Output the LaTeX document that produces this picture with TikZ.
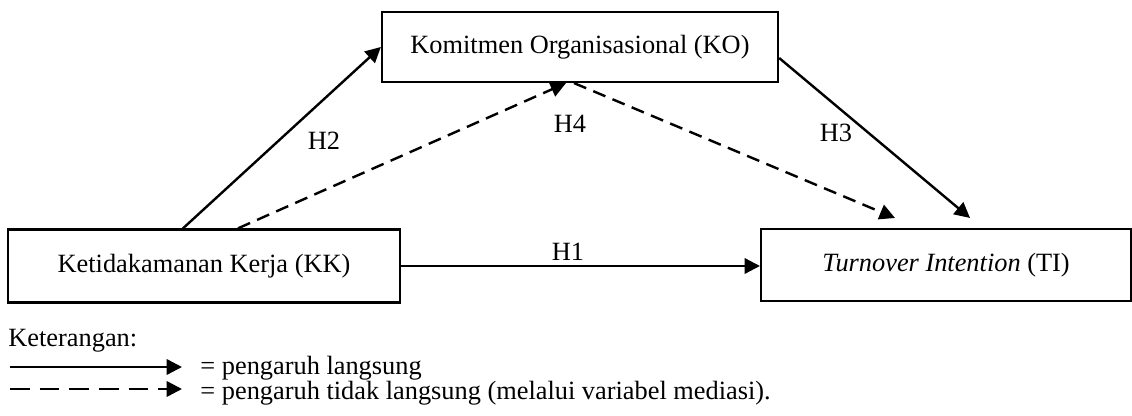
\documentclass[tikz,border=0pt]{standalone}
\usepackage{fontspec}
\setmainfont{Liberation Serif}
\usetikzlibrary{arrows.meta,calc}

\begin{document}
\begin{tikzpicture}[x=0.016cm, y=0.016cm, font=\fontsize{12}{14}\selectfont,
		box/.style={draw, line width=1pt, inner sep=0pt},
		arr/.style={line width=1.1pt, -{Triangle[length=7pt, width=7pt]}},
		dsh/.style={arr, dash pattern=on 6pt off 3.5pt},
		lbl/.style={inner sep=0pt, anchor=base west}]
			\useasboundingbox (0,0) rectangle (1132,415);
			\node[box, minimum width=6.34cm, minimum height=1.12cm] (ko) at (580,368) {Komitmen Organisasional (KO)};
			\node[box, minimum width=6.27cm, minimum height=1.17cm] (kk) at (204,149) {Ketidakamanan Kerja (KK)};
			\node[box, minimum width=5.92cm, minimum height=1.15cm] (ti) at (946,150) {\textit{Turnover Intention} (TI)};
			\node (h1) at (568,163) {H1};
			\node (h2) at (324,274) {H2};
			\node (h3) at (836,282) {H3};
			\node (h4) at (570,291) {H4};
			\draw[arr] (kk.east) -- (kk.east -| ti.west);
			\draw[arr] ($(kk.north)+(-21,0)$) -- (ko.west);
			\draw[arr] ($(ko.east)+(0,-11)$) -- ($(ti.north)+(24,10)$);
			\draw[dsh] ($(kk.north)+(34,0)$) -- ($(ko.south)+(-14,0)$);
			\draw[dsh] ($(ko.south)+(-6,0)$) -- ($(ti.north)+(-51,10)$);
			% keterangan
			\node[lbl] (ket) at (8,68) {Keterangan:};
			\node[lbl] (t1) at (200,41) {= pengaruh langsung};
			\node[lbl] (t2) at (200,16) {= pengaruh tidak langsung (melalui variabel mediasi).};
			\coordinate (a1) at (10,48);
			\coordinate (a2) at (10,26);
			\draw[arr] (a1) -- (a1 -| 182,0);
			\draw[arr, dash pattern=on 9pt off 4.5pt] (a2) -- (a2 -| 182,0);
		\end{tikzpicture}
\end{document}
